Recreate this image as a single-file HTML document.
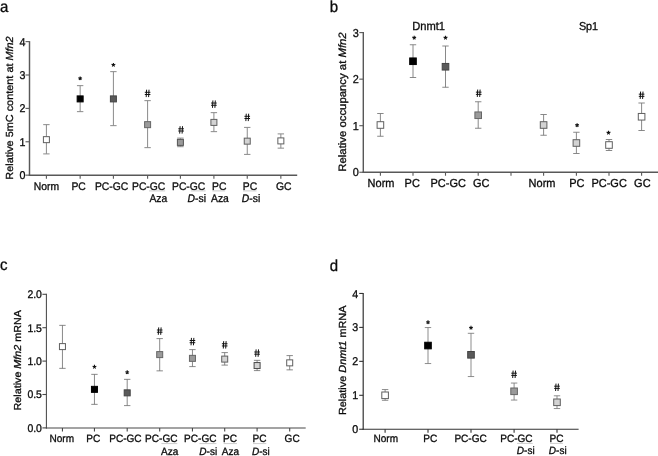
<!DOCTYPE html>
<html><head><meta charset="utf-8"><title>Figure</title>
<style>
html,body{margin:0;padding:0;background:#fff;}
body{width:658px;height:456px;overflow:hidden;font-family:'Liberation Sans', sans-serif;}
svg{display:block;will-change:transform;text-rendering:geometricPrecision;font-family:'Liberation Sans', sans-serif;}
</style></head><body>
<svg width="658" height="456" viewBox="0 0 658 456">
<rect width="658" height="456" fill="#ffffff"/>
<text transform="translate(0,12) scale(1,1.06)" font-size="15" text-anchor="start" fill="#0c0c0c" stroke="#0c0c0c" stroke-width="0.3" >a</text>
<line x1="29.5" y1="41.129999999999995" x2="29.5" y2="175.875" stroke="#585858" stroke-width="1.45"/>
<line x1="28.775" y1="175.15" x2="297.2" y2="175.15" stroke="#585858" stroke-width="1.45"/>
<line x1="25.5" y1="175.15" x2="29.5" y2="175.15" stroke="#585858" stroke-width="1.1"/>
<text transform="translate(25.4,179.21043600000002) scale(1,1.06)" font-size="10.7" text-anchor="end" fill="#0c0c0c" stroke="#0c0c0c" stroke-width="0.3" >0</text>
<line x1="25.5" y1="141.77" x2="29.5" y2="141.77" stroke="#585858" stroke-width="1.1"/>
<text transform="translate(25.4,145.83043600000002) scale(1,1.06)" font-size="10.7" text-anchor="end" fill="#0c0c0c" stroke="#0c0c0c" stroke-width="0.3" >1</text>
<line x1="25.5" y1="108.39" x2="29.5" y2="108.39" stroke="#585858" stroke-width="1.1"/>
<text transform="translate(25.4,112.450436) scale(1,1.06)" font-size="10.7" text-anchor="end" fill="#0c0c0c" stroke="#0c0c0c" stroke-width="0.3" >2</text>
<line x1="25.5" y1="75.00999999999999" x2="29.5" y2="75.00999999999999" stroke="#585858" stroke-width="1.1"/>
<text transform="translate(25.4,79.07043599999999) scale(1,1.06)" font-size="10.7" text-anchor="end" fill="#0c0c0c" stroke="#0c0c0c" stroke-width="0.3" >3</text>
<line x1="25.5" y1="41.629999999999995" x2="29.5" y2="41.629999999999995" stroke="#585858" stroke-width="1.1"/>
<text transform="translate(25.4,45.690436) scale(1,1.06)" font-size="10.7" text-anchor="end" fill="#0c0c0c" stroke="#0c0c0c" stroke-width="0.3" >4</text>
<line x1="46.4" y1="175.15" x2="46.4" y2="178.65" stroke="#585858" stroke-width="1.1"/>
<line x1="80.15" y1="175.15" x2="80.15" y2="178.65" stroke="#585858" stroke-width="1.1"/>
<line x1="113.4" y1="175.15" x2="113.4" y2="178.65" stroke="#585858" stroke-width="1.1"/>
<line x1="147.6" y1="175.15" x2="147.6" y2="178.65" stroke="#585858" stroke-width="1.1"/>
<line x1="180.4" y1="175.15" x2="180.4" y2="178.65" stroke="#585858" stroke-width="1.1"/>
<line x1="213.9" y1="175.15" x2="213.9" y2="178.65" stroke="#585858" stroke-width="1.1"/>
<line x1="247.25" y1="175.15" x2="247.25" y2="178.65" stroke="#585858" stroke-width="1.1"/>
<line x1="280.85" y1="175.15" x2="280.85" y2="178.65" stroke="#585858" stroke-width="1.1"/>
<text transform="translate(33.8,189.5) scale(1,1.06)" font-size="10.35" text-anchor="start" fill="#0c0c0c" stroke="#0c0c0c" stroke-width="0.3" >Norm</text>
<text transform="translate(71.4,189.5) scale(1,1.06)" font-size="10.35" text-anchor="start" fill="#0c0c0c" stroke="#0c0c0c" stroke-width="0.3" >PC</text>
<text transform="translate(94.9,189.5) scale(1,1.06)" font-size="10.35" text-anchor="start" fill="#0c0c0c" stroke="#0c0c0c" stroke-width="0.3" >PC-GC</text>
<text transform="translate(132.0,189.5) scale(1,1.06)" font-size="10.35" text-anchor="start" fill="#0c0c0c" stroke="#0c0c0c" stroke-width="0.3" >PC-GC</text>
<text transform="translate(149.4,202.4) scale(1,1.06)" font-size="10.35" text-anchor="start" fill="#0c0c0c" stroke="#0c0c0c" stroke-width="0.3" >Aza</text>
<text transform="translate(172.0,189.5) scale(1,1.06)" font-size="10.35" text-anchor="start" fill="#0c0c0c" stroke="#0c0c0c" stroke-width="0.3" >PC-GC</text>
<text transform="translate(187.6,202.4) scale(1,1.06)" font-size="10.35" text-anchor="start" fill="#0c0c0c" stroke="#0c0c0c" stroke-width="0.3" ><tspan font-style="italic">D</tspan>-si</text>
<text transform="translate(212.0,189.5) scale(1,1.06)" font-size="10.35" text-anchor="start" fill="#0c0c0c" stroke="#0c0c0c" stroke-width="0.3" >PC</text>
<text transform="translate(211.0,202.4) scale(1,1.06)" font-size="10.35" text-anchor="start" fill="#0c0c0c" stroke="#0c0c0c" stroke-width="0.3" >Aza</text>
<text transform="translate(242.8,189.5) scale(1,1.06)" font-size="10.35" text-anchor="start" fill="#0c0c0c" stroke="#0c0c0c" stroke-width="0.3" >PC</text>
<text transform="translate(241.8,202.4) scale(1,1.06)" font-size="10.35" text-anchor="start" fill="#0c0c0c" stroke="#0c0c0c" stroke-width="0.3" ><tspan font-style="italic">D</tspan>-si</text>
<text transform="translate(276.0,189.5) scale(1,1.06)" font-size="10.35" text-anchor="start" fill="#0c0c0c" stroke="#0c0c0c" stroke-width="0.3" >GC</text>
<line x1="149" y1="190.9" x2="165.2" y2="190.9" stroke="#cdcdcd" stroke-width="1"/>
<line x1="190.8" y1="190.9" x2="205.6" y2="190.9" stroke="#cdcdcd" stroke-width="1"/>
<line x1="212.3" y1="190.9" x2="225.2" y2="190.9" stroke="#cdcdcd" stroke-width="1"/>
<line x1="243" y1="190.9" x2="256.5" y2="190.9" stroke="#cdcdcd" stroke-width="1"/>
<text transform="translate(13.3,108) rotate(-90) scale(1.06,1)" font-size="10.28" text-anchor="middle" fill="#0c0c0c" stroke="#0c0c0c" stroke-width="0.3">Relative 5mC content at <tspan font-style="italic">Mfn2</tspan></text>
<line x1="46.4" y1="124.65" x2="46.4" y2="153.9" stroke="#8a8a8a" stroke-width="1.0"/>
<line x1="43.199999999999996" y1="124.65" x2="49.6" y2="124.65" stroke="#8a8a8a" stroke-width="1.0"/>
<line x1="43.199999999999996" y1="153.9" x2="49.6" y2="153.9" stroke="#8a8a8a" stroke-width="1.0"/>
<rect x="43.4" y="136.65" width="6.0" height="6.0" fill="#ffffff" stroke="#606060" stroke-width="1"/>
<line x1="80.15" y1="85.65" x2="80.15" y2="111.65" stroke="#8a8a8a" stroke-width="1.0"/>
<line x1="76.95" y1="85.65" x2="83.35000000000001" y2="85.65" stroke="#8a8a8a" stroke-width="1.0"/>
<line x1="76.95" y1="111.65" x2="83.35000000000001" y2="111.65" stroke="#8a8a8a" stroke-width="1.0"/>
<rect x="77.15" y="95.9" width="6.0" height="6.0" fill="#000000" stroke="#000000" stroke-width="1"/>
<path d="M80.15,78.40L80.15,76.40M80.15,78.40L82.05,77.78M80.15,78.40L81.33,80.02M80.15,78.40L78.97,80.02M80.15,78.40L78.25,77.78" stroke="#111" stroke-width="1.1" fill="none" stroke-linecap="butt"/>
<line x1="113.4" y1="71.65" x2="113.4" y2="125.65" stroke="#8a8a8a" stroke-width="1.0"/>
<line x1="110.2" y1="71.65" x2="116.60000000000001" y2="71.65" stroke="#8a8a8a" stroke-width="1.0"/>
<line x1="110.2" y1="125.65" x2="116.60000000000001" y2="125.65" stroke="#8a8a8a" stroke-width="1.0"/>
<rect x="110.4" y="95.9" width="6.0" height="6.0" fill="#5a5a5a" stroke="#444" stroke-width="1"/>
<path d="M113.40,64.90L113.40,62.90M113.40,64.90L115.30,64.28M113.40,64.90L114.58,66.52M113.40,64.90L112.22,66.52M113.40,64.90L111.50,64.28" stroke="#111" stroke-width="1.1" fill="none" stroke-linecap="butt"/>
<line x1="147.6" y1="100.65" x2="147.6" y2="147.65" stroke="#8a8a8a" stroke-width="1.0"/>
<line x1="144.4" y1="100.65" x2="150.79999999999998" y2="100.65" stroke="#8a8a8a" stroke-width="1.0"/>
<line x1="144.4" y1="147.65" x2="150.79999999999998" y2="147.65" stroke="#8a8a8a" stroke-width="1.0"/>
<rect x="144.6" y="121.65" width="6.0" height="6.0" fill="#9a9a9a" stroke="#666" stroke-width="1"/>
<path d="M146.60,89.70L146.20,97.10M149.00,89.70L148.60,97.10M144.80,92.30L150.40,92.30M144.80,94.50L150.40,94.50" stroke="#111" stroke-width="1.0" fill="none"/>
<line x1="180.4" y1="138.1" x2="180.4" y2="146.70000000000002" stroke="#8a8a8a" stroke-width="1.0"/>
<line x1="177.20000000000002" y1="138.1" x2="183.6" y2="138.1" stroke="#8a8a8a" stroke-width="1.0"/>
<line x1="177.20000000000002" y1="146.70000000000002" x2="183.6" y2="146.70000000000002" stroke="#8a8a8a" stroke-width="1.0"/>
<rect x="177.4" y="139.4" width="6.0" height="6.0" fill="#9a9a9a" stroke="#555" stroke-width="1"/>
<path d="M180.10,126.20L179.70,133.60M182.50,126.20L182.10,133.60M178.30,128.80L183.90,128.80M178.30,131.00L183.90,131.00" stroke="#111" stroke-width="1.0" fill="none"/>
<line x1="213.9" y1="112.65" x2="213.9" y2="131.65" stroke="#8a8a8a" stroke-width="1.0"/>
<line x1="210.70000000000002" y1="112.65" x2="217.1" y2="112.65" stroke="#8a8a8a" stroke-width="1.0"/>
<line x1="210.70000000000002" y1="131.65" x2="217.1" y2="131.65" stroke="#8a8a8a" stroke-width="1.0"/>
<rect x="210.9" y="119.4" width="6.0" height="6.0" fill="#d3d3d3" stroke="#606060" stroke-width="1"/>
<path d="M212.90,100.45L212.50,107.85M215.30,100.45L214.90,107.85M211.10,103.05L216.70,103.05M211.10,105.25L216.70,105.25" stroke="#111" stroke-width="1.0" fill="none"/>
<line x1="247.25" y1="127.4" x2="247.25" y2="154.4" stroke="#8a8a8a" stroke-width="1.0"/>
<line x1="244.05" y1="127.4" x2="250.45" y2="127.4" stroke="#8a8a8a" stroke-width="1.0"/>
<line x1="244.05" y1="154.4" x2="250.45" y2="154.4" stroke="#8a8a8a" stroke-width="1.0"/>
<rect x="244.25" y="138.15" width="6.0" height="6.0" fill="#d3d3d3" stroke="#606060" stroke-width="1"/>
<path d="M246.25,113.70L245.85,121.10M248.65,113.70L248.25,121.10M244.45,116.30L250.05,116.30M244.45,118.50L250.05,118.50" stroke="#111" stroke-width="1.0" fill="none"/>
<line x1="280.85" y1="133.9" x2="280.85" y2="148.15" stroke="#8a8a8a" stroke-width="1.0"/>
<line x1="277.65000000000003" y1="133.9" x2="284.05" y2="133.9" stroke="#8a8a8a" stroke-width="1.0"/>
<line x1="277.65000000000003" y1="148.15" x2="284.05" y2="148.15" stroke="#8a8a8a" stroke-width="1.0"/>
<rect x="277.85" y="137.9" width="6.0" height="6.0" fill="#ffffff" stroke="#606060" stroke-width="1"/>
<text transform="translate(329.8,12) scale(1,1.06)" font-size="15" text-anchor="start" fill="#0c0c0c" stroke="#0c0c0c" stroke-width="0.3" >b</text>
<line x1="363.3" y1="32.10000000000002" x2="363.3" y2="172.95" stroke="#585858" stroke-width="1.4"/>
<line x1="362.6" y1="172.25" x2="658" y2="172.25" stroke="#585858" stroke-width="1.4"/>
<line x1="359.3" y1="172.25" x2="363.3" y2="172.25" stroke="#585858" stroke-width="1.1"/>
<text transform="translate(358.8,176.386332) scale(1,1.06)" font-size="10.9" text-anchor="end" fill="#0c0c0c" stroke="#0c0c0c" stroke-width="0.3" >0</text>
<line x1="359.3" y1="125.7" x2="363.3" y2="125.7" stroke="#585858" stroke-width="1.1"/>
<text transform="translate(358.8,129.836332) scale(1,1.06)" font-size="10.9" text-anchor="end" fill="#0c0c0c" stroke="#0c0c0c" stroke-width="0.3" >1</text>
<line x1="359.3" y1="79.15" x2="363.3" y2="79.15" stroke="#585858" stroke-width="1.1"/>
<text transform="translate(358.8,83.286332) scale(1,1.06)" font-size="10.9" text-anchor="end" fill="#0c0c0c" stroke="#0c0c0c" stroke-width="0.3" >2</text>
<line x1="359.3" y1="32.60000000000002" x2="363.3" y2="32.60000000000002" stroke="#585858" stroke-width="1.1"/>
<text transform="translate(358.8,36.736332000000026) scale(1,1.06)" font-size="10.9" text-anchor="end" fill="#0c0c0c" stroke="#0c0c0c" stroke-width="0.3" >3</text>
<line x1="380.4" y1="172.25" x2="380.4" y2="175.75" stroke="#585858" stroke-width="1.1"/>
<line x1="413" y1="172.25" x2="413" y2="175.75" stroke="#585858" stroke-width="1.1"/>
<line x1="445.5" y1="172.25" x2="445.5" y2="175.75" stroke="#585858" stroke-width="1.1"/>
<line x1="478.2" y1="172.25" x2="478.2" y2="175.75" stroke="#585858" stroke-width="1.1"/>
<line x1="511" y1="172.25" x2="511" y2="175.75" stroke="#585858" stroke-width="1.1"/>
<line x1="543.6" y1="172.25" x2="543.6" y2="175.75" stroke="#585858" stroke-width="1.1"/>
<line x1="576.4" y1="172.25" x2="576.4" y2="175.75" stroke="#585858" stroke-width="1.1"/>
<line x1="609" y1="172.25" x2="609" y2="175.75" stroke="#585858" stroke-width="1.1"/>
<line x1="641.6" y1="172.25" x2="641.6" y2="175.75" stroke="#585858" stroke-width="1.1"/>
<text transform="translate(367.6,187.3) scale(1,1.06)" font-size="11.0" text-anchor="start" fill="#0c0c0c" stroke="#0c0c0c" stroke-width="0.3" >Norm</text>
<text transform="translate(404.6,187.3) scale(1,1.06)" font-size="11.0" text-anchor="start" fill="#0c0c0c" stroke="#0c0c0c" stroke-width="0.3" >PC</text>
<text transform="translate(430.5,187.3) scale(1,1.06)" font-size="11.0" text-anchor="start" fill="#0c0c0c" stroke="#0c0c0c" stroke-width="0.3" >PC-GC</text>
<text transform="translate(473.0,187.3) scale(1,1.06)" font-size="11.0" text-anchor="start" fill="#0c0c0c" stroke="#0c0c0c" stroke-width="0.3" >GC</text>
<text transform="translate(528.6,187.3) scale(1,1.06)" font-size="11.0" text-anchor="start" fill="#0c0c0c" stroke="#0c0c0c" stroke-width="0.3" >Norm</text>
<text transform="translate(569.2,187.3) scale(1,1.06)" font-size="11.0" text-anchor="start" fill="#0c0c0c" stroke="#0c0c0c" stroke-width="0.3" >PC</text>
<text transform="translate(591.4,187.3) scale(1,1.06)" font-size="11.0" text-anchor="start" fill="#0c0c0c" stroke="#0c0c0c" stroke-width="0.3" >PC-GC</text>
<text transform="translate(634.1,187.3) scale(1,1.06)" font-size="11.0" text-anchor="start" fill="#0c0c0c" stroke="#0c0c0c" stroke-width="0.3" >GC</text>
<text transform="translate(345.5,102) rotate(-90) scale(1.06,1)" font-size="10.71" text-anchor="middle" fill="#0c0c0c" stroke="#0c0c0c" stroke-width="0.3">Relative occupancy at <tspan font-style="italic">Mfn2</tspan></text>
<text transform="translate(428.6,29.8) scale(1,1.06)" font-size="11.15" text-anchor="middle" fill="#0c0c0c" stroke="#0c0c0c" stroke-width="0.3" >Dnmt1</text>
<text transform="translate(588.5,29.8) scale(1,1.06)" font-size="10.8" text-anchor="middle" fill="#0c0c0c" stroke="#0c0c0c" stroke-width="0.3" >Sp1</text>
<line x1="380.4" y1="113.5" x2="380.4" y2="136.25" stroke="#7c7c7c" stroke-width="0.9"/>
<line x1="377.2" y1="113.5" x2="383.59999999999997" y2="113.5" stroke="#7c7c7c" stroke-width="0.9"/>
<line x1="377.2" y1="136.25" x2="383.59999999999997" y2="136.25" stroke="#7c7c7c" stroke-width="0.9"/>
<rect x="377.09999999999997" y="121.7" width="6.6" height="6.6" fill="#ffffff" stroke="#606060" stroke-width="1"/>
<line x1="413" y1="44.75" x2="413" y2="77.5" stroke="#7c7c7c" stroke-width="0.9"/>
<line x1="409.8" y1="44.75" x2="416.2" y2="44.75" stroke="#7c7c7c" stroke-width="0.9"/>
<line x1="409.8" y1="77.5" x2="416.2" y2="77.5" stroke="#7c7c7c" stroke-width="0.9"/>
<rect x="409.7" y="57.95" width="6.6" height="6.6" fill="#000000" stroke="#000000" stroke-width="1"/>
<path d="M414.20,37.75L414.20,35.75M414.20,37.75L416.10,37.13M414.20,37.75L415.38,39.37M414.20,37.75L413.02,39.37M414.20,37.75L412.30,37.13" stroke="#111" stroke-width="1.1" fill="none" stroke-linecap="butt"/>
<line x1="445.5" y1="46.0" x2="445.5" y2="87.25" stroke="#7c7c7c" stroke-width="0.9"/>
<line x1="442.3" y1="46.0" x2="448.7" y2="46.0" stroke="#7c7c7c" stroke-width="0.9"/>
<line x1="442.3" y1="87.25" x2="448.7" y2="87.25" stroke="#7c7c7c" stroke-width="0.9"/>
<rect x="442.2" y="63.45" width="6.6" height="6.6" fill="#5a5a5a" stroke="#444" stroke-width="1"/>
<path d="M445.50,37.75L445.50,35.75M445.50,37.75L447.40,37.13M445.50,37.75L446.68,39.37M445.50,37.75L444.32,39.37M445.50,37.75L443.60,37.13" stroke="#111" stroke-width="1.1" fill="none" stroke-linecap="butt"/>
<line x1="478.2" y1="101.75" x2="478.2" y2="128.25" stroke="#7c7c7c" stroke-width="0.9"/>
<line x1="475.0" y1="101.75" x2="481.4" y2="101.75" stroke="#7c7c7c" stroke-width="0.9"/>
<line x1="475.0" y1="128.25" x2="481.4" y2="128.25" stroke="#7c7c7c" stroke-width="0.9"/>
<rect x="474.9" y="111.95" width="6.6" height="6.6" fill="#9a9a9a" stroke="#666" stroke-width="1"/>
<path d="M477.70,89.55L477.30,96.95M480.10,89.55L479.70,96.95M475.90,92.15L481.50,92.15M475.90,94.35L481.50,94.35" stroke="#111" stroke-width="1.0" fill="none"/>
<line x1="543.6" y1="114.5" x2="543.6" y2="135.25" stroke="#7c7c7c" stroke-width="0.9"/>
<line x1="540.4" y1="114.5" x2="546.8000000000001" y2="114.5" stroke="#7c7c7c" stroke-width="0.9"/>
<line x1="540.4" y1="135.25" x2="546.8000000000001" y2="135.25" stroke="#7c7c7c" stroke-width="0.9"/>
<rect x="540.3000000000001" y="121.7" width="6.6" height="6.6" fill="#d3d3d3" stroke="#606060" stroke-width="1"/>
<line x1="576.4" y1="132.25" x2="576.4" y2="153.5" stroke="#7c7c7c" stroke-width="0.9"/>
<line x1="573.1999999999999" y1="132.25" x2="579.6" y2="132.25" stroke="#7c7c7c" stroke-width="0.9"/>
<line x1="573.1999999999999" y1="153.5" x2="579.6" y2="153.5" stroke="#7c7c7c" stroke-width="0.9"/>
<rect x="573.1" y="139.7" width="6.6" height="6.6" fill="#d3d3d3" stroke="#606060" stroke-width="1"/>
<path d="M577.10,125.25L577.10,123.25M577.10,125.25L579.00,124.63M577.10,125.25L578.28,126.87M577.10,125.25L575.92,126.87M577.10,125.25L575.20,124.63" stroke="#111" stroke-width="1.1" fill="none" stroke-linecap="butt"/>
<line x1="609" y1="139.5" x2="609" y2="150.5" stroke="#7c7c7c" stroke-width="0.9"/>
<line x1="605.8" y1="139.5" x2="612.2" y2="139.5" stroke="#7c7c7c" stroke-width="0.9"/>
<line x1="605.8" y1="150.5" x2="612.2" y2="150.5" stroke="#7c7c7c" stroke-width="0.9"/>
<rect x="605.7" y="141.7" width="6.6" height="6.6" fill="#ffffff" stroke="#606060" stroke-width="1"/>
<path d="M608.50,132.75L608.50,130.75M608.50,132.75L610.40,132.13M608.50,132.75L609.68,134.37M608.50,132.75L607.32,134.37M608.50,132.75L606.60,132.13" stroke="#111" stroke-width="1.1" fill="none" stroke-linecap="butt"/>
<line x1="641.6" y1="103.0" x2="641.6" y2="130.5" stroke="#7c7c7c" stroke-width="0.9"/>
<line x1="638.4" y1="103.0" x2="644.8000000000001" y2="103.0" stroke="#7c7c7c" stroke-width="0.9"/>
<line x1="638.4" y1="130.5" x2="644.8000000000001" y2="130.5" stroke="#7c7c7c" stroke-width="0.9"/>
<rect x="638.3000000000001" y="113.45" width="6.6" height="6.6" fill="#ffffff" stroke="#606060" stroke-width="1"/>
<path d="M640.60,91.55L640.20,98.95M643.00,91.55L642.60,98.95M638.80,94.15L644.40,94.15M638.80,96.35L644.40,96.35" stroke="#111" stroke-width="1.0" fill="none"/>
<text transform="translate(0,270) scale(1,1.06)" font-size="15" text-anchor="start" fill="#0c0c0c" stroke="#0c0c0c" stroke-width="0.3" >c</text>
<line x1="46.4" y1="293.79999999999995" x2="46.4" y2="428.42499999999995" stroke="#484848" stroke-width="1.05"/>
<line x1="45.875" y1="427.9" x2="305.7" y2="427.9" stroke="#484848" stroke-width="1.05"/>
<line x1="42.4" y1="427.9" x2="46.4" y2="427.9" stroke="#484848" stroke-width="1.1"/>
<text transform="translate(41.9,431.865566) scale(1,1.06)" font-size="10.45" text-anchor="end" fill="#0c0c0c" stroke="#0c0c0c" stroke-width="0.3" >0.0</text>
<line x1="42.4" y1="394.5" x2="46.4" y2="394.5" stroke="#484848" stroke-width="1.1"/>
<text transform="translate(41.9,398.465566) scale(1,1.06)" font-size="10.45" text-anchor="end" fill="#0c0c0c" stroke="#0c0c0c" stroke-width="0.3" >0.5</text>
<line x1="42.4" y1="361.09999999999997" x2="46.4" y2="361.09999999999997" stroke="#484848" stroke-width="1.1"/>
<text transform="translate(41.9,365.065566) scale(1,1.06)" font-size="10.45" text-anchor="end" fill="#0c0c0c" stroke="#0c0c0c" stroke-width="0.3" >1.0</text>
<line x1="42.4" y1="327.7" x2="46.4" y2="327.7" stroke="#484848" stroke-width="1.1"/>
<text transform="translate(41.9,331.665566) scale(1,1.06)" font-size="10.45" text-anchor="end" fill="#0c0c0c" stroke="#0c0c0c" stroke-width="0.3" >1.5</text>
<line x1="42.4" y1="294.29999999999995" x2="46.4" y2="294.29999999999995" stroke="#484848" stroke-width="1.1"/>
<text transform="translate(41.9,298.265566) scale(1,1.06)" font-size="10.45" text-anchor="end" fill="#0c0c0c" stroke="#0c0c0c" stroke-width="0.3" >2.0</text>
<line x1="62.45" y1="427.9" x2="62.45" y2="431.4" stroke="#484848" stroke-width="1.1"/>
<line x1="94.45" y1="427.9" x2="94.45" y2="431.4" stroke="#484848" stroke-width="1.1"/>
<line x1="127.2" y1="427.9" x2="127.2" y2="431.4" stroke="#484848" stroke-width="1.1"/>
<line x1="159.7" y1="427.9" x2="159.7" y2="431.4" stroke="#484848" stroke-width="1.1"/>
<line x1="192.45" y1="427.9" x2="192.45" y2="431.4" stroke="#484848" stroke-width="1.1"/>
<line x1="224.7" y1="427.9" x2="224.7" y2="431.4" stroke="#484848" stroke-width="1.1"/>
<line x1="257.1" y1="427.9" x2="257.1" y2="431.4" stroke="#484848" stroke-width="1.1"/>
<line x1="289.7" y1="427.9" x2="289.7" y2="431.4" stroke="#484848" stroke-width="1.1"/>
<text transform="translate(49.5,442.2) scale(1,1.06)" font-size="10.05" text-anchor="start" fill="#0c0c0c" stroke="#0c0c0c" stroke-width="0.3" >Norm</text>
<text transform="translate(86.3,442.2) scale(1,1.06)" font-size="10.05" text-anchor="start" fill="#0c0c0c" stroke="#0c0c0c" stroke-width="0.3" >PC</text>
<text transform="translate(109.2,442.2) scale(1,1.06)" font-size="10.05" text-anchor="start" fill="#0c0c0c" stroke="#0c0c0c" stroke-width="0.3" >PC-GC</text>
<text transform="translate(145.1,442.2) scale(1,1.06)" font-size="10.05" text-anchor="start" fill="#0c0c0c" stroke="#0c0c0c" stroke-width="0.3" >PC-GC</text>
<text transform="translate(161.0,455.4) scale(1,1.06)" font-size="10.05" text-anchor="start" fill="#0c0c0c" stroke="#0c0c0c" stroke-width="0.3" >Aza</text>
<text transform="translate(184.1,442.2) scale(1,1.06)" font-size="10.05" text-anchor="start" fill="#0c0c0c" stroke="#0c0c0c" stroke-width="0.3" >PC-GC</text>
<text transform="translate(199.3,455.4) scale(1,1.06)" font-size="10.05" text-anchor="start" fill="#0c0c0c" stroke="#0c0c0c" stroke-width="0.3" ><tspan font-style="italic">D</tspan>-si</text>
<text transform="translate(223.0,442.2) scale(1,1.06)" font-size="10.05" text-anchor="start" fill="#0c0c0c" stroke="#0c0c0c" stroke-width="0.3" >PC</text>
<text transform="translate(221.8,455.4) scale(1,1.06)" font-size="10.05" text-anchor="start" fill="#0c0c0c" stroke="#0c0c0c" stroke-width="0.3" >Aza</text>
<text transform="translate(252.5,442.2) scale(1,1.06)" font-size="10.05" text-anchor="start" fill="#0c0c0c" stroke="#0c0c0c" stroke-width="0.3" >PC</text>
<text transform="translate(251.9,455.4) scale(1,1.06)" font-size="10.05" text-anchor="start" fill="#0c0c0c" stroke="#0c0c0c" stroke-width="0.3" ><tspan font-style="italic">D</tspan>-si</text>
<text transform="translate(284.6,442.2) scale(1,1.06)" font-size="10.05" text-anchor="start" fill="#0c0c0c" stroke="#0c0c0c" stroke-width="0.3" >GC</text>
<line x1="161.4" y1="443.59999999999997" x2="177.3" y2="443.59999999999997" stroke="#cdcdcd" stroke-width="1"/>
<line x1="199.5" y1="443.59999999999997" x2="216.4" y2="443.59999999999997" stroke="#cdcdcd" stroke-width="1"/>
<line x1="223.6" y1="443.59999999999997" x2="237" y2="443.59999999999997" stroke="#cdcdcd" stroke-width="1"/>
<line x1="253" y1="443.59999999999997" x2="266.3" y2="443.59999999999997" stroke="#cdcdcd" stroke-width="1"/>
<text transform="translate(21.4,360.3) rotate(-90) scale(1.06,1)" font-size="10.14" text-anchor="middle" fill="#0c0c0c" stroke="#0c0c0c" stroke-width="0.3">Relative <tspan font-style="italic">Mfn2</tspan> mRNA</text>
<line x1="62.45" y1="325.35" x2="62.45" y2="368.35" stroke="#6c6c6c" stroke-width="0.8"/>
<line x1="59.25" y1="325.35" x2="65.65" y2="325.35" stroke="#6c6c6c" stroke-width="0.8"/>
<line x1="59.25" y1="368.35" x2="65.65" y2="368.35" stroke="#6c6c6c" stroke-width="0.8"/>
<rect x="59.45" y="343.6" width="6.0" height="6.0" fill="#ffffff" stroke="#606060" stroke-width="1"/>
<line x1="94.45" y1="374.35" x2="94.45" y2="404.35" stroke="#6c6c6c" stroke-width="0.8"/>
<line x1="91.25" y1="374.35" x2="97.65" y2="374.35" stroke="#6c6c6c" stroke-width="0.8"/>
<line x1="91.25" y1="404.35" x2="97.65" y2="404.35" stroke="#6c6c6c" stroke-width="0.8"/>
<rect x="91.45" y="386.35" width="6.0" height="6.0" fill="#000000" stroke="#000000" stroke-width="1"/>
<path d="M94.45,366.85L94.45,364.85M94.45,366.85L96.35,366.23M94.45,366.85L95.63,368.47M94.45,366.85L93.27,368.47M94.45,366.85L92.55,366.23" stroke="#111" stroke-width="1.1" fill="none" stroke-linecap="butt"/>
<line x1="127.2" y1="379.35" x2="127.2" y2="405.6" stroke="#6c6c6c" stroke-width="0.8"/>
<line x1="124.0" y1="379.35" x2="130.4" y2="379.35" stroke="#6c6c6c" stroke-width="0.8"/>
<line x1="124.0" y1="405.6" x2="130.4" y2="405.6" stroke="#6c6c6c" stroke-width="0.8"/>
<rect x="124.2" y="389.85" width="6.0" height="6.0" fill="#5a5a5a" stroke="#444" stroke-width="1"/>
<path d="M127.20,372.35L127.20,370.35M127.20,372.35L129.10,371.73M127.20,372.35L128.38,373.97M127.20,372.35L126.02,373.97M127.20,372.35L125.30,371.73" stroke="#111" stroke-width="1.1" fill="none" stroke-linecap="butt"/>
<line x1="159.7" y1="338.6" x2="159.7" y2="370.85" stroke="#6c6c6c" stroke-width="0.8"/>
<line x1="156.5" y1="338.6" x2="162.89999999999998" y2="338.6" stroke="#6c6c6c" stroke-width="0.8"/>
<line x1="156.5" y1="370.85" x2="162.89999999999998" y2="370.85" stroke="#6c6c6c" stroke-width="0.8"/>
<rect x="156.7" y="351.6" width="6.0" height="6.0" fill="#9a9a9a" stroke="#666" stroke-width="1"/>
<path d="M158.70,327.40L158.30,334.80M161.10,327.40L160.70,334.80M156.90,330.00L162.50,330.00M156.90,332.20L162.50,332.20" stroke="#111" stroke-width="1.0" fill="none"/>
<line x1="192.45" y1="349.6" x2="192.45" y2="366.6" stroke="#6c6c6c" stroke-width="0.8"/>
<line x1="189.25" y1="349.6" x2="195.64999999999998" y2="349.6" stroke="#6c6c6c" stroke-width="0.8"/>
<line x1="189.25" y1="366.6" x2="195.64999999999998" y2="366.6" stroke="#6c6c6c" stroke-width="0.8"/>
<rect x="189.45" y="355.35" width="6.0" height="6.0" fill="#9a9a9a" stroke="#666" stroke-width="1"/>
<path d="M191.45,337.90L191.05,345.30M193.85,337.90L193.45,345.30M189.65,340.50L195.25,340.50M189.65,342.70L195.25,342.70" stroke="#111" stroke-width="1.0" fill="none"/>
<line x1="224.7" y1="352.6" x2="224.7" y2="365.1" stroke="#6c6c6c" stroke-width="0.8"/>
<line x1="221.5" y1="352.6" x2="227.89999999999998" y2="352.6" stroke="#6c6c6c" stroke-width="0.8"/>
<line x1="221.5" y1="365.1" x2="227.89999999999998" y2="365.1" stroke="#6c6c6c" stroke-width="0.8"/>
<rect x="221.7" y="356.1" width="6.0" height="6.0" fill="#d3d3d3" stroke="#606060" stroke-width="1"/>
<path d="M223.70,341.15L223.30,348.55M226.10,341.15L225.70,348.55M221.90,343.75L227.50,343.75M221.90,345.95L227.50,345.95" stroke="#111" stroke-width="1.0" fill="none"/>
<line x1="257.1" y1="360.35" x2="257.1" y2="370.6" stroke="#6c6c6c" stroke-width="0.8"/>
<line x1="253.90000000000003" y1="360.35" x2="260.3" y2="360.35" stroke="#6c6c6c" stroke-width="0.8"/>
<line x1="253.90000000000003" y1="370.6" x2="260.3" y2="370.6" stroke="#6c6c6c" stroke-width="0.8"/>
<rect x="254.10000000000002" y="362.55" width="6.0" height="6.0" fill="#d3d3d3" stroke="#4a4a4a" stroke-width="1"/>
<path d="M256.10,349.40L255.70,356.80M258.50,349.40L258.10,356.80M254.30,352.00L259.90,352.00M254.30,354.20L259.90,354.20" stroke="#111" stroke-width="1.0" fill="none"/>
<line x1="289.7" y1="355.6" x2="289.7" y2="369.85" stroke="#6c6c6c" stroke-width="0.8"/>
<line x1="286.5" y1="355.6" x2="292.9" y2="355.6" stroke="#6c6c6c" stroke-width="0.8"/>
<line x1="286.5" y1="369.85" x2="292.9" y2="369.85" stroke="#6c6c6c" stroke-width="0.8"/>
<rect x="286.7" y="359.85" width="6.0" height="6.0" fill="#ffffff" stroke="#606060" stroke-width="1"/>
<text transform="translate(329.8,270.5) scale(1,1.06)" font-size="15" text-anchor="start" fill="#0c0c0c" stroke="#0c0c0c" stroke-width="0.3" >d</text>
<line x1="363.2" y1="292.95" x2="363.2" y2="429.85" stroke="#333" stroke-width="1.2"/>
<line x1="362.59999999999997" y1="429.25" x2="578.6" y2="429.25" stroke="#333" stroke-width="1.2"/>
<line x1="359.2" y1="429.25" x2="363.2" y2="429.25" stroke="#333" stroke-width="1.1"/>
<text transform="translate(358.2,433.310436) scale(1,1.06)" font-size="10.7" text-anchor="end" fill="#0c0c0c" stroke="#0c0c0c" stroke-width="0.3" >0</text>
<line x1="359.2" y1="395.3" x2="363.2" y2="395.3" stroke="#333" stroke-width="1.1"/>
<text transform="translate(358.2,399.360436) scale(1,1.06)" font-size="10.7" text-anchor="end" fill="#0c0c0c" stroke="#0c0c0c" stroke-width="0.3" >1</text>
<line x1="359.2" y1="361.35" x2="363.2" y2="361.35" stroke="#333" stroke-width="1.1"/>
<text transform="translate(358.2,365.410436) scale(1,1.06)" font-size="10.7" text-anchor="end" fill="#0c0c0c" stroke="#0c0c0c" stroke-width="0.3" >2</text>
<line x1="359.2" y1="327.4" x2="363.2" y2="327.4" stroke="#333" stroke-width="1.1"/>
<text transform="translate(358.2,331.46043599999996) scale(1,1.06)" font-size="10.7" text-anchor="end" fill="#0c0c0c" stroke="#0c0c0c" stroke-width="0.3" >3</text>
<line x1="359.2" y1="293.45" x2="363.2" y2="293.45" stroke="#333" stroke-width="1.1"/>
<text transform="translate(358.2,297.51043599999997) scale(1,1.06)" font-size="10.7" text-anchor="end" fill="#0c0c0c" stroke="#0c0c0c" stroke-width="0.3" >4</text>
<line x1="385.1" y1="429.25" x2="385.1" y2="432.75" stroke="#333" stroke-width="1.1"/>
<line x1="428" y1="429.25" x2="428" y2="432.75" stroke="#333" stroke-width="1.1"/>
<line x1="471" y1="429.25" x2="471" y2="432.75" stroke="#333" stroke-width="1.1"/>
<line x1="514.1" y1="429.25" x2="514.1" y2="432.75" stroke="#333" stroke-width="1.1"/>
<line x1="557" y1="429.25" x2="557" y2="432.75" stroke="#333" stroke-width="1.1"/>
<text transform="translate(373.5,442) scale(1,1.06)" font-size="10.05" text-anchor="start" fill="#0c0c0c" stroke="#0c0c0c" stroke-width="0.3" >Norm</text>
<text transform="translate(423.2,442) scale(1,1.06)" font-size="10.05" text-anchor="start" fill="#0c0c0c" stroke="#0c0c0c" stroke-width="0.3" >PC</text>
<text transform="translate(454.4,442) scale(1,1.06)" font-size="10.05" text-anchor="start" fill="#0c0c0c" stroke="#0c0c0c" stroke-width="0.3" >PC-GC</text>
<text transform="translate(500.2,442) scale(1,1.06)" font-size="10.05" text-anchor="start" fill="#0c0c0c" stroke="#0c0c0c" stroke-width="0.3" >PC-GC</text>
<text transform="translate(516.8,454) scale(1,1.06)" font-size="10.05" text-anchor="start" fill="#0c0c0c" stroke="#0c0c0c" stroke-width="0.3" ><tspan font-style="italic">D</tspan>-si</text>
<text transform="translate(549.5,442) scale(1,1.06)" font-size="10.05" text-anchor="start" fill="#0c0c0c" stroke="#0c0c0c" stroke-width="0.3" >PC</text>
<text transform="translate(548.8,454) scale(1,1.06)" font-size="10.05" text-anchor="start" fill="#0c0c0c" stroke="#0c0c0c" stroke-width="0.3" ><tspan font-style="italic">D</tspan>-si</text>
<line x1="517" y1="443.4" x2="532.7" y2="443.4" stroke="#cdcdcd" stroke-width="1"/>
<line x1="550" y1="443.4" x2="562.9" y2="443.4" stroke="#cdcdcd" stroke-width="1"/>
<text transform="translate(345.6,360.3) rotate(-90) scale(1.06,1)" font-size="10.28" text-anchor="middle" fill="#0c0c0c" stroke="#0c0c0c" stroke-width="0.3">Relative <tspan font-style="italic">Dnmt1</tspan> mRNA</text>
<line x1="385.1" y1="389.55" x2="385.1" y2="400.3" stroke="#787878" stroke-width="0.85"/>
<line x1="381.90000000000003" y1="389.55" x2="388.3" y2="389.55" stroke="#787878" stroke-width="0.85"/>
<line x1="381.90000000000003" y1="400.3" x2="388.3" y2="400.3" stroke="#787878" stroke-width="0.85"/>
<rect x="381.8" y="392.0" width="6.6" height="6.6" fill="#ffffff" stroke="#606060" stroke-width="1"/>
<line x1="428" y1="327.55" x2="428" y2="363.55" stroke="#787878" stroke-width="0.85"/>
<line x1="424.8" y1="327.55" x2="431.2" y2="327.55" stroke="#787878" stroke-width="0.85"/>
<line x1="424.8" y1="363.55" x2="431.2" y2="363.55" stroke="#787878" stroke-width="0.85"/>
<rect x="424.7" y="342.25" width="6.6" height="6.6" fill="#000000" stroke="#000000" stroke-width="1"/>
<path d="M428.00,322.30L428.00,320.30M428.00,322.30L429.90,321.68M428.00,322.30L429.18,323.92M428.00,322.30L426.82,323.92M428.00,322.30L426.10,321.68" stroke="#111" stroke-width="1.1" fill="none" stroke-linecap="butt"/>
<line x1="471" y1="333.3" x2="471" y2="376.55" stroke="#787878" stroke-width="0.85"/>
<line x1="467.8" y1="333.3" x2="474.2" y2="333.3" stroke="#787878" stroke-width="0.85"/>
<line x1="467.8" y1="376.55" x2="474.2" y2="376.55" stroke="#787878" stroke-width="0.85"/>
<rect x="467.7" y="351.5" width="6.6" height="6.6" fill="#5a5a5a" stroke="#444" stroke-width="1"/>
<path d="M471.00,327.80L471.00,325.80M471.00,327.80L472.90,327.18M471.00,327.80L472.18,329.42M471.00,327.80L469.82,329.42M471.00,327.80L469.10,327.18" stroke="#111" stroke-width="1.1" fill="none" stroke-linecap="butt"/>
<line x1="514.1" y1="383.05" x2="514.1" y2="400.05" stroke="#787878" stroke-width="0.85"/>
<line x1="510.90000000000003" y1="383.05" x2="517.3000000000001" y2="383.05" stroke="#787878" stroke-width="0.85"/>
<line x1="510.90000000000003" y1="400.05" x2="517.3000000000001" y2="400.05" stroke="#787878" stroke-width="0.85"/>
<rect x="510.8" y="388.0" width="6.6" height="6.6" fill="#9a9a9a" stroke="#666" stroke-width="1"/>
<path d="M513.10,370.60L512.70,378.00M515.50,370.60L515.10,378.00M511.30,373.20L516.90,373.20M511.30,375.40L516.90,375.40" stroke="#111" stroke-width="1.0" fill="none"/>
<line x1="557" y1="395.8" x2="557" y2="408.55" stroke="#787878" stroke-width="0.85"/>
<line x1="553.8" y1="395.8" x2="560.2" y2="395.8" stroke="#787878" stroke-width="0.85"/>
<line x1="553.8" y1="408.55" x2="560.2" y2="408.55" stroke="#787878" stroke-width="0.85"/>
<rect x="553.7" y="399.0" width="6.6" height="6.6" fill="#d3d3d3" stroke="#606060" stroke-width="1"/>
<path d="M556.00,383.60L555.60,391.00M558.40,383.60L558.00,391.00M554.20,386.20L559.80,386.20M554.20,388.40L559.80,388.40" stroke="#111" stroke-width="1.0" fill="none"/>
</svg>
</body></html>
